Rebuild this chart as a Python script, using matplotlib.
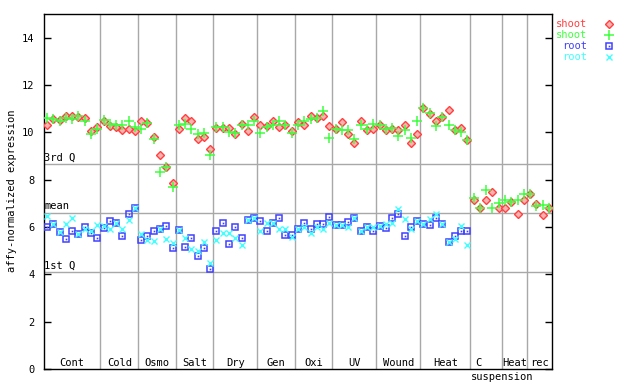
import numpy as np
import matplotlib
matplotlib.use("Agg")
import matplotlib.pyplot as plt
from matplotlib.lines import Line2D

plt.rcParams['font.family'] = ['DejaVu Sans Mono']

# ---------------- data ----------------
group_labels = ["Cont", "Cold", "Osmo", "Salt", "Dry", "Gen", "Oxi", "UV",
                "Wound", "Heat", "C", "Heat", "rec"]
group_sizes = [9, 6, 6, 6, 7, 6, 6, 7, 7, 8, 5, 4, 4]

shoot_rep1 = [10.32, 10.57, 10.52, 10.71, 10.68, 10.63, 10.6, 10.04, 10.21,
              10.49, 10.26, 10.21, 10.09, 10.12, 10.07,
              10.49, 10.4, 9.81, 9.03, 8.52, 7.87,
              10.12, 10.6, 10.46, 9.70, 9.79, 9.28,
              10.18, 10.18, 10.18, 9.95, 10.37, 10.07, 10.66,
              10.29, 10.26, 10.46, 10.24, 10.29, 10.07,
              10.42, 10.29, 10.7, 10.61, 10.7, 10.25,
              10.14, 10.42, 9.94, 9.57, 10.5, 10.11, 10.14,
              10.29, 10.11, 10.14, 10.11, 10.33, 9.57, 9.91,
              11.01, 10.76, 10.49, 10.64, 10.95, 10.11, 10.19, 9.66,
              7.13, 6.82, 7.13, 7.47, 6.8,
              6.8, 7.04, 6.57, 7.16,
              7.4, 6.99, 6.5, 6.82]

shoot_rep2 = [10.6, 10.57, 10.46, 10.6, 10.57, 10.71, 10.49, 9.92, 10.15,
              10.52, 10.35, 10.32, 10.29, 10.49, 10.24,
              10.15, 10.4, 9.73, 8.32, 8.52, 7.68,
              10.29, 10.35, 10.15, 9.95, 9.99, 9.03,
              10.21, 10.21, 10.0, 9.97, 10.29, 10.29, 10.46,
              9.99, 10.24, 10.29, 10.49, 10.32, 9.99,
              10.33, 10.49, 10.55, 10.61, 10.92, 9.77,
              10.14, 10.11, 10.11, 9.71, 10.29, 10.14, 10.35,
              10.31, 10.14, 10.17, 9.86, 10.11, 9.77, 10.49,
              11.03, 10.82, 10.25, 10.64, 10.33, 10.11, 10.0, 9.66,
              7.21, 6.8, 7.58, 6.82, 7.01,
              7.13, 7.04, 7.16, 7.4,
              7.4, 6.9, 6.95, 6.8]

root_rep1 = [6.02, 6.13, 5.79, 5.48, 5.82, 5.71, 5.98, 5.76, 5.55,
             5.95, 6.27, 6.19, 5.64, 6.57, 6.82,
             5.44, 5.64, 5.83, 5.92, 6.03, 5.1,
             5.88, 5.17, 5.52, 4.77, 5.1, 4.22,
             5.83, 6.16, 5.27, 5.98, 5.52, 6.3, 6.36,
             6.27, 5.84, 6.16, 6.36, 5.65, 5.65,
             5.9, 6.19, 5.93, 6.14, 6.14, 6.44,
             6.1, 6.07, 6.23, 6.37, 5.83, 6.02, 5.81,
             6.06, 5.95, 6.4, 6.57, 5.61, 6.02, 6.24,
             6.13, 6.1, 6.4, 6.11, 5.37, 5.64, 5.85, 5.81]

root_rep2 = [6.48, 6.13, 5.79, 6.14, 6.36, 5.71, 5.9, 5.83, 6.1,
             6.05, 5.9, 6.19, 5.93, 6.31, 6.82,
             5.72, 5.46, 5.41, 5.92, 5.48, 5.33,
             5.88, 5.52, 5.07, 4.99, 5.38, 4.5,
             5.45, 5.73, 5.76, 5.55, 5.22, 6.3, 6.36,
             5.82, 6.16, 6.16, 5.93, 5.9, 5.58,
             5.9, 6.02, 5.74, 6.02, 5.9, 6.16,
             6.1, 6.07, 5.98, 6.37, 5.83, 6.02, 5.98,
             6.06, 6.14, 6.19, 6.76, 6.33, 5.9, 6.24,
             6.13, 6.33, 6.57, 6.11, 5.37, 5.51, 6.06, 5.22]

ref_values = [8.67, 6.61, 4.08]
ref_labels = ["3rd Q", "mean", "1st Q"]

# ---------------- styles ----------------
RED = '#ff4040'
GREEN = '#40ff40'
BLUE = '#4040ff'
CYAN = '#40ffff'
GRID = '#a8a8a8'
FS = 7.5

n_total = sum(group_sizes)
x_shoot = np.arange(len(shoot_rep1)) + 0.5
x_root = np.arange(len(root_rep1)) + 0.5

fig = plt.figure(figsize=(6.4, 3.84), dpi=100)
ax = fig.add_axes([44/640, 15/384, 508/640, 355/384])
ax.set_xlim(0, n_total)
ax.set_ylim(0, 15)

# group separators
bounds = np.cumsum(group_sizes)
for b in bounds[:-1]:
    ax.axvline(b, color=GRID, lw=1, zorder=1)

# reference lines
for v, lab in zip(ref_values, ref_labels):
    ax.axhline(v, color=GRID, lw=1, zorder=1)
    ax.text(0.05, v + 0.06, lab, ha='left', va='bottom', fontsize=FS, color='black')

# group labels
starts = np.concatenate([[0], bounds[:-1]])
for s, size, lab in zip(starts, group_sizes, group_labels):
    cx = s + size / 2
    if lab == "C":
        cx = s + 1.2
    ax.text(cx, 0.12, lab, ha='center', va='baseline', fontsize=FS)
ax.text(starts[10] + 5.0, -0.45, "suspension", ha='center', va='baseline',
        fontsize=FS, clip_on=False)

# marker styles
mk_r = dict(marker='D', ms=3.6, mfc='#ffb0b0', mec=RED, mew=1.0)
mk_g = dict(marker='+', ms=6.5, mec=GREEN, mew=1.1)
mk_b = dict(marker='s', ms=4.5, mfc='none', mec=BLUE, mew=1.1)
mk_bd = dict(marker='s', ms=1.2, mfc=BLUE, mec=BLUE, mew=0)
mk_c = dict(marker='x', ms=4.5, mec=CYAN, mew=1.0)

# data
ax.plot(x_shoot, shoot_rep1, ls='none', zorder=3, **mk_r)
ax.plot(x_shoot, shoot_rep2, ls='none', zorder=4, **mk_g)
ax.plot(x_root, root_rep1, ls='none', zorder=3, **mk_b)
ax.plot(x_root, root_rep1, ls='none', zorder=3, **mk_bd)
ax.plot(x_root, root_rep2, ls='none', zorder=4, **mk_c)

# axes styling
ax.set_xticks([])
ax.set_yticks(range(0, 15, 2))
ax.tick_params(axis='y', direction='in', length=5, width=1, left=True, right=True,
               labelsize=FS, pad=7)
for sp in ax.spines.values():
    sp.set_color('black')
    sp.set_linewidth(1)

fig.text(12/640, 1 - 191/384, 'affy-normalized expression', rotation=90,
         ha='center', va='center', fontsize=FS)

# legend (manual)
leg_items = [("shoot", RED, [mk_r]),
             ("shoot", GREEN, [mk_g]),
             ("root", BLUE, [mk_b, mk_bd]),
             ("root", CYAN, [mk_c])]
for i, (lab, col, mks) in enumerate(leg_items):
    yy = 1 - (24 + 11 * i) / 384
    fig.text(587/640, yy, lab, ha='right', va='center', color=col, fontsize=FS)
    for mk in mks:
        fig.add_artist(Line2D([609/640], [yy], ls='none', transform=fig.transFigure, **mk))

fig.savefig('out.png', dpi=100)
